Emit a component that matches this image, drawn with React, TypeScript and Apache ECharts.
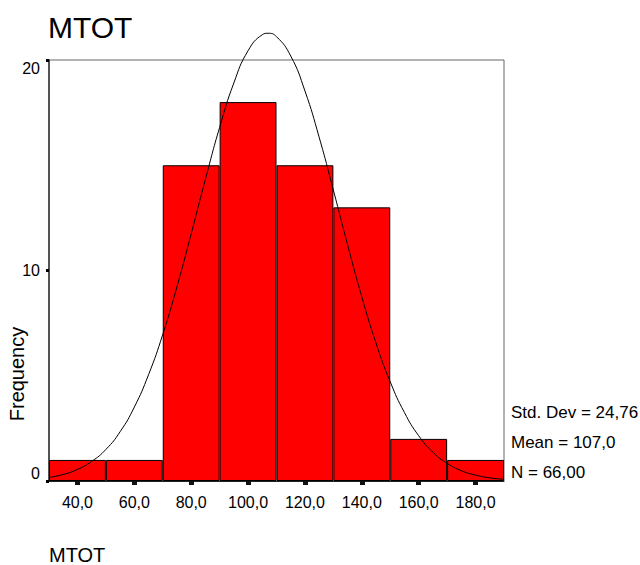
import React, { useEffect, useRef } from "react";
import * as echarts from "echarts";

const BIN_LABELS = ["40,0", "60,0", "80,0", "100,0", "120,0", "140,0", "160,0", "180,0"];
const FREQUENCIES = [1, 1, 15, 18, 15, 13, 2, 1];
const Y_TICKS = { min: 0, max: 20, interval: 10 };
const X_RANGE = { min: 30, max: 190 };

const CURVE_X = [30, 35, 40, 45, 50, 55, 60, 65, 70, 75, 80, 85, 90, 95, 100, 105, 107, 110, 115, 120, 125, 130, 135, 140, 145, 150, 155, 160, 165, 170, 175, 180, 185, 190];
const CURVE_Y = [0.17, 0.31, 0.55, 0.93, 1.5, 2.34, 3.51, 5.05, 6.96, 9.23, 11.74, 14.33, 16.8, 18.91, 20.44, 21.2, 21.27, 21.11, 20.19, 18.53, 16.33, 13.82, 11.22, 8.75, 6.55, 4.71, 3.25, 2.15, 1.37, 0.84, 0.49, 0.28, 0.15, 0.08];

const TITLE = "MTOT";
const X_NAME = "MTOT";
const Y_NAME = "Frequency";
const STATS = ["Std. Dev = 24,76", "Mean = 107,0", "N = 66,00"];

const FONT = "'Liberation Sans', Arial, sans-serif";

export default function App() {
  const ref = useRef<HTMLDivElement>(null);
  useEffect(() => {
    if (!ref.current) return;
    const chart = echarts.init(ref.current, undefined, { renderer: "svg" });
    const curve = CURVE_X.map((x, i) => [x, CURVE_Y[i]]);
    chart.setOption({
      animation: false,
      backgroundColor: "#ffffff",
      textStyle: { fontFamily: FONT },
      grid: {
        left: 49,
        top: 60,
        width: 455,
        height: 421,
        show: true,
        borderColor: "#666",
        borderWidth: 1,
        backgroundColor: "transparent",
      },
      xAxis: [
        {
          type: "category",
          data: BIN_LABELS,
          boundaryGap: true,
          axisLine: { show: true, lineStyle: { color: "#222", width: 1 } },
          axisTick: { show: true, alignWithLabel: true, length: 4, lineStyle: { color: "#111", width: 5 } },
          axisLabel: { color: "#000", fontSize: 16, fontFamily: FONT, margin: 13 },
          splitLine: { show: false },
        },
        {
          type: "value",
          min: X_RANGE.min,
          max: X_RANGE.max,
          show: false,
        },
      ],
      yAxis: {
        type: "value",
        min: Y_TICKS.min,
        max: Y_TICKS.max,
        interval: Y_TICKS.interval,
        axisLine: { show: true, lineStyle: { color: "#333", width: 1.5 } },
        axisTick: { show: true, length: 3, lineStyle: { color: "#000", width: 3 } },
        axisLabel: {
          color: "#000",
          fontSize: 16,
          fontFamily: FONT,
          margin: 9,
          verticalAlignMinLabel: "bottom",
          verticalAlignMaxLabel: "top",
        },
        splitLine: { show: false },
      },
      series: [
        {
          type: "bar",
          xAxisIndex: 0,
          data: FREQUENCIES,
          barCategoryGap: "0%",
          itemStyle: { color: "#ff0000", borderColor: "#000", borderWidth: 1 },
          silent: true,
        },
        {
          type: "line",
          xAxisIndex: 1,
          data: curve,
          smooth: true,
          symbol: "none",
          clip: false,
          lineStyle: { color: "#000", width: 1 },
          silent: true,
          z: 5,
        },
      ],
      graphic: [
        {
          type: "text",
          left: 48,
          top: 12,
          style: { text: TITLE, fontSize: 30, fontFamily: FONT, fill: "#000" },
        },
        {
          type: "text",
          x: 49,
          y: 555,
          style: { text: X_NAME, fontSize: 20, fontFamily: FONT, fill: "#000", verticalAlign: "middle", align: "left" },
        },
        {
          type: "text",
          x: 16.5,
          y: 374,
          rotation: Math.PI / 2,
          style: { text: Y_NAME, fontSize: 20, fontFamily: FONT, fill: "#000", verticalAlign: "middle", align: "center" },
        },
        ...STATS.map((s, i) => ({
          type: "text",
          x: 511,
          y: 412 + i * 30,
          style: { text: s, fontSize: 17, fontFamily: FONT, fill: "#000", verticalAlign: "middle", align: "left" },
        })),
      ],
    });
    return () => chart.dispose();
  }, []);
  return <div ref={ref} style={{ position: "absolute", left: 0, top: 0, width: 640, height: 565 }} />;
}
